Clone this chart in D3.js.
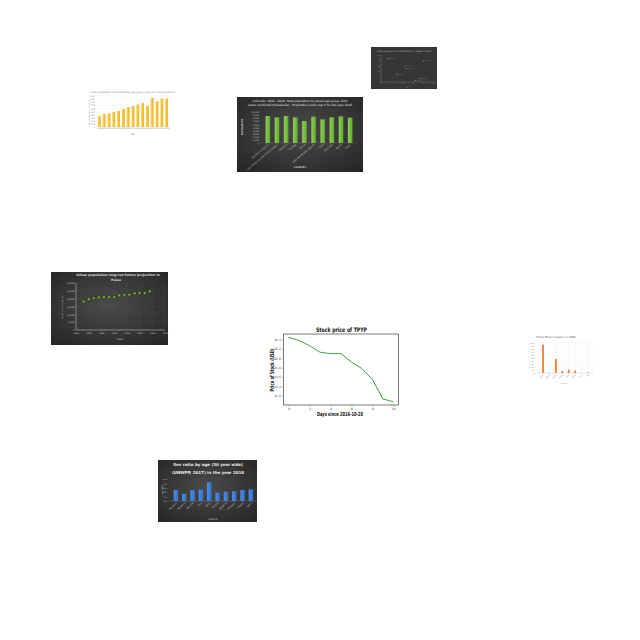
<!DOCTYPE html>
<html><head><meta charset="utf-8">
<script src="https://cdn.jsdelivr.net/npm/d3@7"></script>
<style>body{margin:0;background:#fff}svg{display:block}</style>
</head><body>
<script>
// ===== DATA =====
// Main: Stock price of TPYP
const stockDays = [0,1,2,3,4,5,6,7,8,9,10];
const stockPrice = [22.45,22.38,22.27,22.13,22.10,22.10,21.92,21.78,21.55,21.13,21.07];
const stockXTicks = [0,2,4,6,8,10];
const stockYTicks = [21.2,21.4,21.6,21.8,22.0,22.2,22.4];

// Yellow bars (top-left)
const yellowYears = ["2004","2005","2006","2007","2008","2009","2010","2011","2012","2013","2014","2015","2016","2017","2018"];
const yellowValues = [350,420,440,490,515,590,640,680,725,770,690,940,830,920,920];
const yellowYTicks = [0,100,200,300,400,500,600,700,800,900,1000];

// Green bars (Colorado)
const greenCats = ["Northern America","Latin America and the Caribbean","Oceania","Europe","Africa","Less developed regions","Asia","Colorado","World","Other"];
const greenValues = [8710,8280,8710,8280,7100,8490,7630,8280,8600,8170];
const greenYTicks = [0,1000,2000,3000,4000,5000,6000,7000,8000,9000,10000];

// Urban population Palau (scatter)
const palauYears = [2018,2020,2022,2024,2026,2028,2030,2032,2034,2036,2038,2040,2042,2044];
const palauValues = [18200,19700,20400,20800,21000,21000,21000,22100,22500,22500,23400,23600,23600,24600];
const palauXTicks = [2015,2020,2025,2030,2035,2040,2045,2050];
const palauYTicks = [0,5000,10000,15000,20000,25000,30000];

// Sex ratio (blue bars)
const sexCats = ["Romania","Moldova","Ukraine","Italy","Qatar","Poland","Bulgaria","Hungary","Greece","Spain"];
const sexValues = [102.5,98.1,102.5,103.2,111.3,99.6,100.7,101.0,102.5,103.2];
const sexYTicks = [90,95,100,105,110,115];

// Small dark scatter (top-right)
const malawiNames = ["Lilongwe","Blantyre","Mzuzu","Zomba","Kasungu","Mangochi","Karonga"];
const malawiX = [13.8,79.8,45.3,48.5,29.6,73.6,64.2];
const malawiY = [86.3,77.8,59.3,49.3,28.5,13.7,6.3];
const malawiTicks = [0,20,40,60,80,100];

// Orange bars (right)
const biteCats = ["India","Brazil","China","Nepal","Peru","Chad","Laos","Fiji"];
const biteValues = [945,0,467,67,111,78,0,22];
const biteYTicks = [0,100,200,300,400,500,600,700,800,900,1000];

// ===== DRAW =====
const svg = d3.select("body").append("svg").attr("width",640).attr("height",640);
svg.append("rect").attr("width",640).attr("height",640).attr("fill","#fff");
const defs = svg.append("defs");
const dg = defs.append("radialGradient").attr("id","darkbg").attr("cx","50%").attr("cy","45%").attr("r","75%");
dg.append("stop").attr("offset","0%").attr("stop-color","#4b4b4b");
dg.append("stop").attr("offset","100%").attr("stop-color","#242424");
const yg = defs.append("linearGradient").attr("id","ygrad").attr("x1",0).attr("x2",1).attr("y1",0).attr("y2",0);
yg.append("stop").attr("offset","0%").attr("stop-color","#f7d154");
yg.append("stop").attr("offset","100%").attr("stop-color","#edb624");
const gg = defs.append("linearGradient").attr("id","ggrad").attr("x1",0).attr("x2",1).attr("y1",0).attr("y2",0);
gg.append("stop").attr("offset","0%").attr("stop-color","#8fd150");
gg.append("stop").attr("offset","100%").attr("stop-color","#63a833");
const bg = defs.append("linearGradient").attr("id","bgrad").attr("x1",0).attr("x2",1).attr("y1",0).attr("y2",0);
bg.append("stop").attr("offset","0%").attr("stop-color","#4f8fe6");
bg.append("stop").attr("offset","100%").attr("stop-color","#2f6cc6");

const SANS = "'DejaVu Sans', sans-serif";
const COND = "'DejaVu Sans Condensed','Liberation Sans Narrow','DejaVu Sans',sans-serif";

function styleAxis(a, size, color, lineColor){
  a.attr("font-size", size).attr("font-family", SANS);
  a.selectAll("text").attr("fill", color);
  a.selectAll("line").attr("stroke", lineColor).attr("stroke-width", 0.3);
  a.select(".domain").remove();
}

// ---------- Stock chart ----------
{
  const g = svg.append("g");
  const x = d3.scaleLinear().domain([-0.5,10.5]).range([283.5,398.5]);
  const y = d3.scaleLinear().domain([21.0,22.52]).range([405,334]);
  g.append("g").attr("transform","translate(0,405)")
    .call(d3.axisBottom(x).tickValues(stockXTicks).tickFormat(d3.format("d")).tickSize(1.5).tickPadding(1.2))
    .call(a=>styleAxis(a,3,"#333","#333"));
  g.append("g").attr("transform","translate(283.5,0)")
    .call(d3.axisLeft(y).tickValues(stockYTicks).tickFormat(d3.format(".1f")).tickSize(1.5).tickPadding(1.2))
    .call(a=>styleAxis(a,3,"#333","#333"));
  g.append("rect").attr("x",283.5).attr("y",334).attr("width",115).attr("height",71)
    .attr("fill","none").attr("stroke","#222").attr("stroke-width",0.6);
  g.append("path").datum(stockDays.map((d,i)=>[d,stockPrice[i]]))
    .attr("fill","none").attr("stroke","#3fa03f").attr("stroke-width",1)
    .attr("d", d3.line().x(d=>x(d[0])).y(d=>y(d[1])));
  g.append("text").attr("x",341.5).attr("y",331.8).attr("text-anchor","middle")
    .attr("font-family",COND).attr("font-weight","bold").attr("font-size",6.2).attr("fill","#111")
    .attr("textLength",51).attr("lengthAdjust","spacingAndGlyphs")
    .text("Stock price of TPYP");
  g.append("text").attr("x",340).attr("y",416.3).attr("text-anchor","middle")
    .attr("font-family",COND).attr("font-weight","bold").attr("font-size",5.6).attr("fill","#111")
    .attr("textLength",46).attr("lengthAdjust","spacingAndGlyphs")
    .text("Days since 2016-10-20");
  g.append("text").attr("transform","translate(274,370) rotate(-90)").attr("text-anchor","middle")
    .attr("font-family",COND).attr("font-weight","bold").attr("font-size",5.6).attr("fill","#111")
    .attr("textLength",43).attr("lengthAdjust","spacingAndGlyphs")
    .text("Price of Stock (USD)");
}

// ---------- Yellow bar chart ----------
{
  const g = svg.append("g");
  const x = d3.scaleBand().domain(yellowYears).range([96,170]).padding(0.4);
  const y = d3.scaleLinear().domain([0,1000]).range([127,96]);
  g.selectAll(".gl").data(yellowYTicks).join("line")
    .attr("x1",96).attr("x2",170).attr("y1",d=>y(d)).attr("y2",d=>y(d))
    .attr("stroke","#ececec").attr("stroke-width",0.3);
  g.append("g").attr("transform","translate(96,0)")
    .call(d3.axisLeft(y).tickValues(yellowYTicks).tickSize(0).tickPadding(1))
    .call(a=>styleAxis(a,2,"#777","#ccc"));
  g.append("g").attr("transform","translate(0,127)")
    .call(d3.axisBottom(x).tickSize(0).tickPadding(1.2))
    .call(a=>styleAxis(a,1.8,"#777","#ccc"));
  g.append("line").attr("x1",96).attr("x2",170).attr("y1",127).attr("y2",127).attr("stroke","#bbb").attr("stroke-width",0.3);
  g.selectAll(".bar").data(yellowValues).join("rect")
    .attr("x",(d,i)=>x(yellowYears[i])).attr("width",x.bandwidth())
    .attr("y",d=>y(d)).attr("height",d=>127-y(d)).attr("fill","url(#ygrad)");
  g.append("text").attr("x",133).attr("y",93).attr("text-anchor","middle")
    .attr("font-family",SANS).attr("font-size",2.4).attr("fill","#777")
    .text("Urban population (thousands) by age group, long run future projection");
  g.append("text").attr("transform","translate(90,112) rotate(-90)").attr("text-anchor","middle")
    .attr("font-family",SANS).attr("font-size",2).attr("fill","#777").text("No. of people (thousands)");
  g.append("text").attr("x",133).attr("y",135).attr("text-anchor","middle")
    .attr("font-family",SANS).attr("font-size",2.2).attr("fill","#777").text("Year");
}

// ---------- Green bar chart (dark) ----------
{
  const g = svg.append("g");
  g.append("rect").attr("x",237).attr("y",97).attr("width",126).attr("height",75).attr("fill","url(#darkbg)");
  const x = d3.scaleBand().domain(greenCats).range([261,357]).padding(0.5);
  const y = d3.scaleLinear().domain([0,10000]).range([143,112]);
  g.append("g").attr("transform","translate(260,0)")
    .call(d3.axisLeft(y).tickValues(greenYTicks).tickSize(0).tickPadding(1))
    .call(a=>styleAxis(a,2.1,"#cfcfcf","#777"));
  g.append("line").attr("x1",260).attr("x2",357).attr("y1",143).attr("y2",143).attr("stroke","#777").attr("stroke-width",0.3);
  g.selectAll(".bar").data(greenValues).join("rect")
    .attr("x",(d,i)=>x(greenCats[i])).attr("width",x.bandwidth())
    .attr("y",d=>y(d)).attr("height",d=>143-y(d)).attr("fill","url(#ggrad)");
  g.selectAll(".cl").data(greenCats).join("text")
    .attr("transform",d=>`translate(${x(d)+x.bandwidth()/2+1},145) rotate(-40)`)
    .attr("text-anchor","end").attr("font-family",SANS).attr("font-size",2.4).attr("fill","#cfcfcf").text(d=>d);
  g.append("text").attr("x",300).attr("y",101.5).attr("text-anchor","middle")
    .attr("font-family",SANS).attr("font-size",2.9).attr("fill","#e6e6e6")
    .text("Colorado, 1900 - 2020: Total population by broad age group, both");
  g.append("text").attr("x",300).attr("y",105.6).attr("text-anchor","middle")
    .attr("font-family",SANS).attr("font-size",2.9).attr("fill","#e6e6e6")
    .text("sexes combined (thousands) - Population under age 5 for the year 2018");
  g.append("text").attr("transform","translate(242.5,127) rotate(-90)").attr("text-anchor","middle")
    .attr("font-family",SANS).attr("font-weight","bold").attr("font-size",2.3).attr("fill","#cfcfcf").text("POPULATION");
  g.append("text").attr("x",300).attr("y",168).attr("text-anchor","middle")
    .attr("font-family",SANS).attr("font-weight","bold").attr("font-size",2.3).attr("fill","#cfcfcf").text("COUNTRY");
}

// ---------- Palau urban population (dark scatter) ----------
{
  const g = svg.append("g");
  g.append("rect").attr("x",51).attr("y",272).attr("width",117).attr("height",73).attr("fill","url(#darkbg)");
  const x = d3.scaleLinear().domain([2015,2050]).range([76,165]);
  const y = d3.scaleLinear().domain([0,30000]).range([330,283]);
  g.selectAll(".gy").data(palauYTicks).join("line")
    .attr("x1",76).attr("x2",165).attr("y1",d=>y(d)).attr("y2",d=>y(d)).attr("stroke","#555").attr("stroke-width",0.25);
  g.selectAll(".gx").data(palauXTicks).join("line")
    .attr("x1",d=>x(d)).attr("x2",d=>x(d)).attr("y1",283).attr("y2",330).attr("stroke","#555").attr("stroke-width",0.25);
  g.append("g").attr("transform","translate(76,0)")
    .call(d3.axisLeft(y).tickValues(palauYTicks).tickSize(0).tickPadding(1.5))
    .call(a=>styleAxis(a,2.2,"#c8c8c8","#aaa"));
  g.append("g").attr("transform","translate(0,330)")
    .call(d3.axisBottom(x).tickValues(palauXTicks).tickFormat(d3.format("d")).tickSize(0).tickPadding(2))
    .call(a=>styleAxis(a,2.2,"#c8c8c8","#aaa"));
  g.append("line").attr("x1",76).attr("x2",76).attr("y1",283).attr("y2",330).attr("stroke","#c8c8c8").attr("stroke-width",0.5);
  g.append("line").attr("x1",76).attr("x2",165).attr("y1",330).attr("y2",330).attr("stroke","#c8c8c8").attr("stroke-width",0.5);
  g.selectAll(".pt").data(palauValues).join("circle")
    .attr("cx",(d,i)=>x(palauYears[i])).attr("cy",d=>y(d)).attr("r",1.6)
    .attr("fill","#7aa944").attr("stroke","#1a2c0e").attr("stroke-width",0.6);
  g.append("text").attr("x",118).attr("y",276.3).attr("text-anchor","middle")
    .attr("font-family",SANS).attr("font-weight","bold").attr("font-size",3.2).attr("fill","#dcdcdc")
    .text("Urban population long run future projection in");
  g.append("text").attr("x",116).attr("y",280.6).attr("text-anchor","middle")
    .attr("font-family",SANS).attr("font-weight","bold").attr("font-size",3.2).attr("fill","#dcdcdc").text("Palau");
  g.append("text").attr("transform","translate(62.5,307) rotate(-90)").attr("text-anchor","middle")
    .attr("font-family",SANS).attr("font-size",2).attr("fill","#c8c8c8").text("Urban pop (thousands)");
  g.append("text").attr("x",120).attr("y",340.3).attr("text-anchor","middle")
    .attr("font-family",SANS).attr("font-size",2.3).attr("fill","#c8c8c8").text("Years");
}

// ---------- Sex ratio (dark blue bars) ----------
{
  const g = svg.append("g");
  g.append("rect").attr("x",158).attr("y",460).attr("width",99).attr("height",62).attr("fill","url(#darkbg)");
  const x = d3.scaleBand().domain(sexCats).range([170,257]).padding(0.45);
  const y = d3.scaleLinear().domain([90,115]).range([501,479]);
  g.append("g").attr("transform","translate(168,0)")
    .call(d3.axisLeft(y).tickValues(sexYTicks).tickSize(1).tickPadding(0.8))
    .call(a=>styleAxis(a,1.9,"#cfcfcf","#aaa"));
  g.append("line").attr("x1",168).attr("x2",257).attr("y1",501).attr("y2",501).attr("stroke","#888").attr("stroke-width",0.3);
  g.selectAll(".bar").data(sexValues).join("rect")
    .attr("x",(d,i)=>x(sexCats[i])).attr("width",x.bandwidth())
    .attr("y",d=>y(d)).attr("height",d=>501-y(d)).attr("fill","url(#bgrad)");
  g.selectAll(".cl").data(sexCats).join("text")
    .attr("transform",d=>`translate(${x(d)+x.bandwidth()/2+1},503) rotate(-45)`)
    .attr("text-anchor","end").attr("font-family",SANS).attr("font-size",2.3).attr("fill","#cfcfcf").text(d=>d);
  g.append("text").attr("x",208).attr("y",465.8).attr("text-anchor","middle")
    .attr("font-family",SANS).attr("font-weight","bold").attr("font-size",4).attr("fill","#ececec")
    .text("Sex ratio by age (30 year olds)");
  g.append("text").attr("x",208).attr("y",474.3).attr("text-anchor","middle")
    .attr("font-family",SANS).attr("font-weight","bold").attr("font-size",4).attr("fill","#ececec")
    .text("(UNWPP, 2017) in the year 2018");
  g.append("text").attr("transform","translate(163,490) rotate(-90)").attr("text-anchor","middle")
    .attr("font-family",SANS).attr("font-size",1.8).attr("fill","#cfcfcf").text("SEX RATIO");
  g.append("text").attr("x",213).attr("y",519.5).attr("text-anchor","middle")
    .attr("font-family",SANS).attr("font-size",2.1).attr("fill","#cfcfcf").text("COUNTRY");
}

// ---------- Small dark scatter (top-right) ----------
{
  const g = svg.append("g");
  g.append("rect").attr("x",371).attr("y",47).attr("width",66).attr("height",42).attr("fill","#363636");
  const x = d3.scaleLinear().domain([0,100]).range([381,434]);
  const y = d3.scaleLinear().domain([0,100]).range([82,55]);
  g.append("g").attr("transform","translate(381,0)")
    .call(d3.axisLeft(y).tickValues(malawiTicks).tickSize(0).tickPadding(1))
    .call(a=>styleAxis(a,1.6,"#9a9a9a","#888"));
  g.append("g").attr("transform","translate(0,82)")
    .call(d3.axisBottom(x).tickValues(malawiTicks).tickSize(0).tickPadding(1))
    .call(a=>styleAxis(a,1.6,"#9a9a9a","#888"));
  g.append("line").attr("x1",381).attr("x2",381).attr("y1",55).attr("y2",82).attr("stroke","#8a8a8a").attr("stroke-width",0.4);
  g.append("line").attr("x1",381).attr("x2",434).attr("y1",82).attr("y2",82).attr("stroke","#8a8a8a").attr("stroke-width",0.4);
  g.selectAll(".pt").data(malawiX).join("circle")
    .attr("cx",d=>x(d)).attr("cy",(d,i)=>y(malawiY[i])).attr("r",0.6).attr("fill","#9a9a9a");
  g.selectAll(".pl").data(malawiNames).join("text")
    .attr("x",(d,i)=>x(malawiX[i])+1).attr("y",(d,i)=>y(malawiY[i])+0.5)
    .attr("font-family",SANS).attr("font-size",1.5).attr("fill","#8a8a8a").text(d=>d);
  g.append("text").attr("x",404).attr("y",51.6).attr("text-anchor","middle")
    .attr("font-family",SANS).attr("font-size",2.2).attr("fill","#b0b0b0")
    .text("Urban population of settlements in Malawi (2018)");
  g.append("text").attr("x",407).attr("y",87.5).attr("text-anchor","middle")
    .attr("font-family",SANS).attr("font-size",1.6).attr("fill","#9a9a9a").text("Year");
}

// ---------- Orange bars (right) ----------
{
  const g = svg.append("g");
  const x = d3.scaleBand().domain(biteCats).range([537.5,593.5]).padding(0.72);
  const y = d3.scaleLinear().domain([0,1000]).range([373,343]);
  g.selectAll(".gy").data(biteYTicks).join("line")
    .attr("x1",535).attr("x2",594).attr("y1",d=>y(d)).attr("y2",d=>y(d)).attr("stroke","#e6e6e6").attr("stroke-width",0.3);
  g.selectAll(".gx").data(biteCats).join("line")
    .attr("x1",d=>x(d)+x.bandwidth()/2).attr("x2",d=>x(d)+x.bandwidth()/2).attr("y1",343).attr("y2",373)
    .attr("stroke","#ececec").attr("stroke-width",0.3);
  g.append("g").attr("transform","translate(535,0)")
    .call(d3.axisLeft(y).tickValues(biteYTicks).tickSize(0).tickPadding(0.8))
    .call(a=>styleAxis(a,1.5,"#888","#ccc"));
  g.append("line").attr("x1",535).attr("x2",594).attr("y1",373).attr("y2",373).attr("stroke","#bbb").attr("stroke-width",0.3);
  g.selectAll(".bar").data(biteValues).join("rect")
    .attr("x",(d,i)=>x(biteCats[i])).attr("width",x.bandwidth())
    .attr("y",d=>y(d)).attr("height",d=>373-y(d)).attr("fill","#e8803a");
  g.selectAll(".cl").data(biteCats).join("text")
    .attr("transform",d=>`translate(${x(d)+x.bandwidth()/2+0.8},375) rotate(-45)`)
    .attr("text-anchor","end").attr("font-family",SANS).attr("font-size",1.8).attr("fill","#888").text(d=>d);
  g.append("text").attr("x",556).attr("y",337.8).attr("text-anchor","middle")
    .attr("font-family",SANS).attr("font-size",2.7).attr("fill","#555").text("Email Bites (release) in 2000");
  g.append("text").attr("transform","translate(529.5,358) rotate(-90)").attr("text-anchor","middle")
    .attr("font-family",SANS).attr("font-size",1.5).attr("fill","#999").text("Number of bites (thousands)");
  g.append("text").attr("x",564).attr("y",383.5).attr("text-anchor","middle")
    .attr("font-family",SANS).attr("font-size",1.8).attr("fill","#999").text("Country");
}
</script>
</body></html>
